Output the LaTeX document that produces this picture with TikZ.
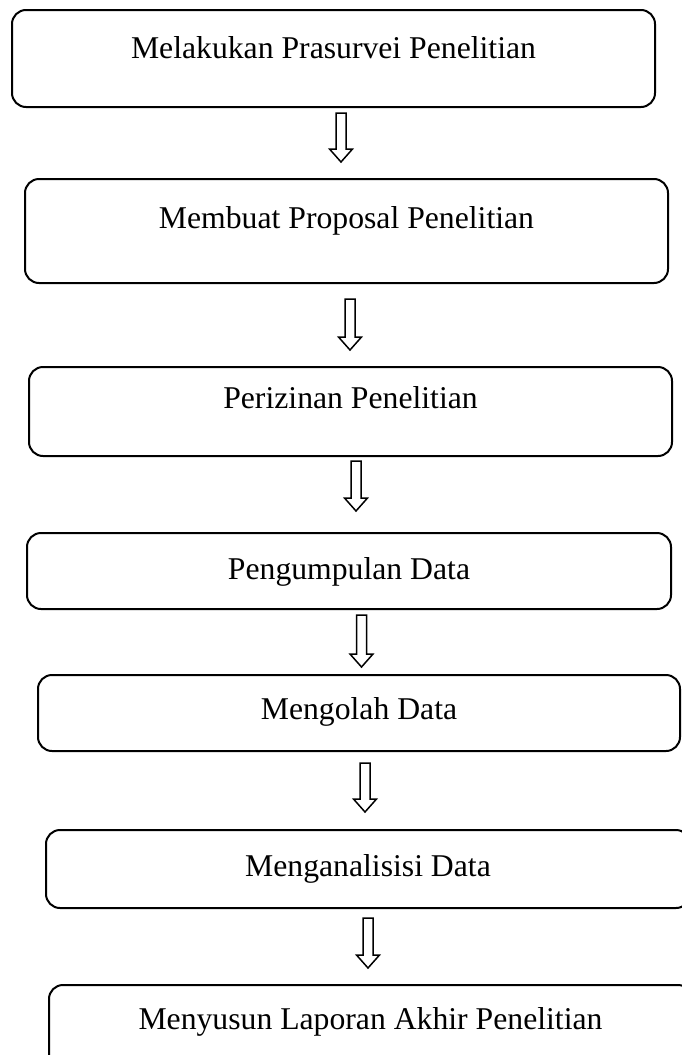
\documentclass[tikz,border=0pt]{standalone}
\usepackage{fontspec}
\setmainfont{Liberation Serif}
\usetikzlibrary{calc}
\tikzset{
  box/.style={draw=black, line width=2pt, rounded corners=14pt, inner sep=0pt, outer sep=0pt},
  lbl/.style={anchor=base, inner sep=0pt, font=\fontsize{31.7}{38}\selectfont},
  blockarrow/.style={draw=black, line width=1.5pt, fill=white, line join=miter}
}
\newcommand{\blockarr}[2]{%
  \path[blockarrow] let \p1=(#1), \p2=(#2) in
    ({\x1-5pt},\y1) -- ({\x1+5pt},\y1) -- ({\x1+5pt},{\y2+13pt}) -- ({\x1+11.5pt},{\y2+13pt})
    -- (\x1,\y2) -- ({\x1-11.5pt},{\y2+13pt}) -- ({\x1-5pt},{\y2+13pt}) -- cycle;}
\begin{document}
\begin{tikzpicture}[x=1pt,y=-1pt]
\path[fill=white] (0,0) rectangle (682,1055);
\useasboundingbox (0,0) rectangle (682,1055);
\clip (0,0) rectangle (682,1055);
% boxes
\node[box, minimum width=643pt, minimum height=97pt] (b1) at (333.5,58.5) {};
\node[box, minimum width=643pt, minimum height=104pt] (b2) at (346.5,231) {};
\node[box, minimum width=643pt, minimum height=89pt] (b3) at (350.5,411.5) {};
\node[box, minimum width=644pt, minimum height=76pt] (b4) at (349,571) {};
\node[box, minimum width=642pt, minimum height=76pt] (b5) at (359,713) {};
\node[box, minimum width=644pt, minimum height=78pt] (b6) at (368,869) {};
\node[box, minimum width=643pt, minimum height=85pt] (b7) at (370.5,1027.5) {};
% labels
\node[lbl] (t1) at (333.5,58) {Melakukan Prasurvei Penelitian};
\node[lbl] (t2) at (346.5,228) {Membuat Proposal Penelitian};
\node[lbl] (t3) at (350.5,408) {Perizinan Penelitian};
\node[lbl] (t4) at (349,579) {Pengumpulan Data};
\node[lbl] (t5) at (359,719) {Mengolah Data};
\node[lbl] (t6) at (368,876) {Menganalisisi Data};
\node[lbl] (t7) at (370.5,1029) {Menyusun Laporan Akhir Penelitian};
% arrow end points
\coordinate (a1s) at (341,113); \coordinate (a1e) at (341,162);
\coordinate (a2s) at (350,299); \coordinate (a2e) at (350,350);
\coordinate (a3s) at (356,461); \coordinate (a3e) at (356,511);
\coordinate (a4s) at (361.5,615); \coordinate (a4e) at (361.5,667);
\coordinate (a5s) at (365,763); \coordinate (a5e) at (365,812);
\coordinate (a6s) at (368,918); \coordinate (a6e) at (368,968);
\blockarr{a1s}{a1e}
\blockarr{a2s}{a2e}
\blockarr{a3s}{a3e}
\blockarr{a4s}{a4e}
\blockarr{a5s}{a5e}
\blockarr{a6s}{a6e}
\end{tikzpicture}
\end{document}
